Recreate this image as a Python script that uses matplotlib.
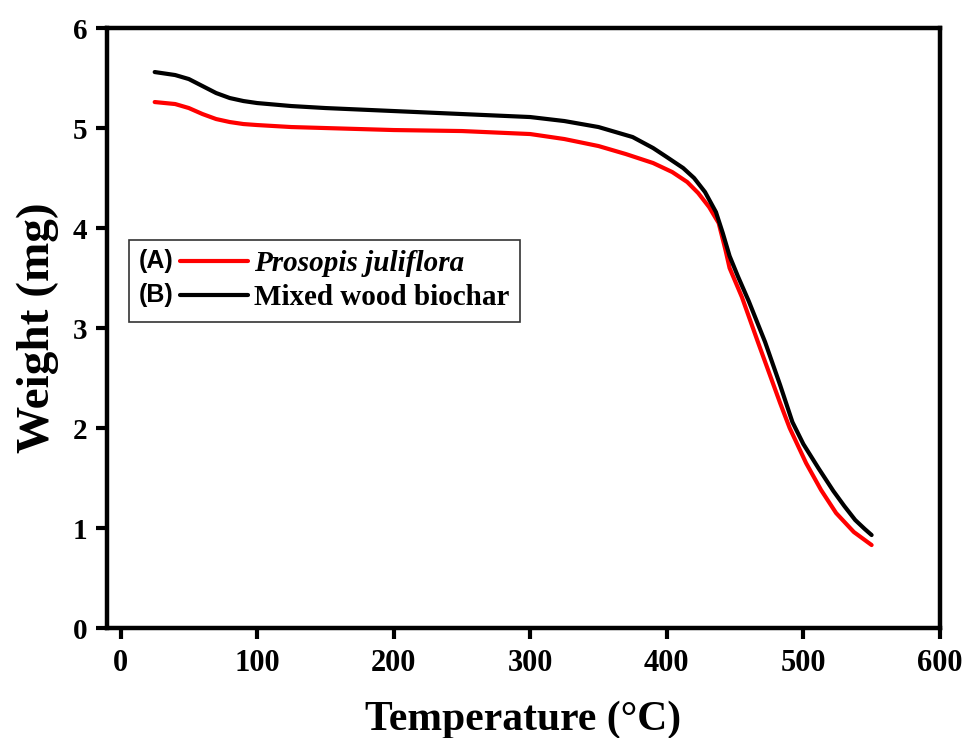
# TGA curves, weight vs temperature
import matplotlib
matplotlib.use('Agg')
import matplotlib.pyplot as plt
from matplotlib.legend_handler import HandlerLine2D
from matplotlib.lines import Line2D
from matplotlib.text import Text

# (A) Prosopis juliflora
temp_a = [25, 40, 50, 60, 70, 80, 90, 100, 125, 150, 200, 250, 300, 325, 350, 370, 390,
          404, 415, 423, 431, 438, 443, 446, 455, 467, 483, 490, 502, 513, 524, 537, 550]
weight_a = [5.26, 5.24, 5.20, 5.14, 5.09, 5.06, 5.04, 5.03, 5.01, 5.00, 4.98, 4.97, 4.94, 4.89, 4.82, 4.74, 4.65,
            4.56, 4.46, 4.35, 4.21, 4.05, 3.78, 3.60, 3.31, 2.85, 2.25, 2.00, 1.65, 1.38, 1.15, 0.96, 0.83]
# (B) Mixed wood biochar
temp_b = [25, 40, 50, 60, 70, 80, 90, 100, 125, 150, 200, 250, 300, 325, 350, 375, 390,
          400, 412, 420, 428, 436, 441, 446, 452, 460, 472, 483, 492, 500, 511, 522, 530, 538, 545, 550]
weight_b = [5.56, 5.53, 5.49, 5.42, 5.35, 5.30, 5.27, 5.25, 5.22, 5.20, 5.17, 5.14, 5.11, 5.07, 5.01, 4.91, 4.80,
            4.71, 4.60, 4.50, 4.36, 4.16, 3.95, 3.72, 3.52, 3.27, 2.86, 2.43, 2.06, 1.84, 1.60, 1.37, 1.22, 1.08, 0.99, 0.93]
labels = ['Prosopis juliflora', 'Mixed wood biochar']
tags = ['(A)', '(B)']

serif = 'Liberation Serif'
sans = 'Liberation Sans'


class TaggedLine(HandlerLine2D):
    # legend handle = "(A)" text followed by a short line
    def __init__(self, tag):
        super().__init__()
        self.tag = tag

    def create_artists(self, legend, orig_handle, xdescent, ydescent, width, height, fontsize, trans):
        x0 = -xdescent
        y = height / 2 - ydescent
        split = x0 + 0.38 * width
        txt = Text(x0, y, self.tag, fontfamily=sans, fontweight='bold', fontsize=18,
                   va='center', ha='left')
        txt.set_transform(trans)
        ln = Line2D([split, x0 + width], [y, y], color=orig_handle.get_color(),
                    lw=orig_handle.get_linewidth(), solid_capstyle='round')
        ln.set_transform(trans)
        return [txt, ln]


fig = plt.figure(figsize=(9.63, 7.38), dpi=100)
ax = fig.add_axes([0.111, 0.149, 0.865, 0.813])

l1, = ax.plot(temp_a, weight_a, color='#ff0000', lw=3, solid_joinstyle='round', solid_capstyle='round')
l2, = ax.plot(temp_b, weight_b, color='black', lw=3, solid_joinstyle='round', solid_capstyle='round')

ax.set_xlim(-10, 600)
ax.set_ylim(0, 6)
ax.set_xticks([0, 100, 200, 300, 400, 500, 600])
ax.set_yticks([0, 1, 2, 3, 4, 5, 6])

for s in ax.spines.values():
    s.set_linewidth(3.2)
ax.tick_params(direction='out', length=8, width=3, top=False, right=False)
for t in ax.get_xticklabels():
    t.set_fontfamily(serif)
    t.set_fontweight('bold')
    t.set_fontsize(22)
for t in ax.get_yticklabels():
    t.set_fontfamily(serif)
    t.set_fontweight('bold')
    t.set_fontsize(21)
ax.tick_params(axis='x', pad=7)
ax.tick_params(axis='y', pad=6)

ax.set_xlabel('Temperature (°C)', fontfamily=serif, fontweight='bold', fontsize=30, labelpad=16)
ax.set_ylabel('Weight (mg)', fontfamily=serif, fontweight='bold', fontsize=34, labelpad=10)

leg = ax.legend([l1, l2], labels, loc='upper left', bbox_to_anchor=(0.026, 0.647),
                borderaxespad=0, fancybox=False, edgecolor='#333333', framealpha=1,
                handler_map={l1: TaggedLine(tags[0]), l2: TaggedLine(tags[1])},
                prop={'family': serif, 'weight': 'bold', 'size': 21},
                handlelength=3.75, handletextpad=0.2, borderpad=0.35, labelspacing=0.25)
leg.get_frame().set_linewidth(1.2)
leg.get_texts()[0].set_fontstyle('italic')

fig.savefig('out.png', dpi=100)
